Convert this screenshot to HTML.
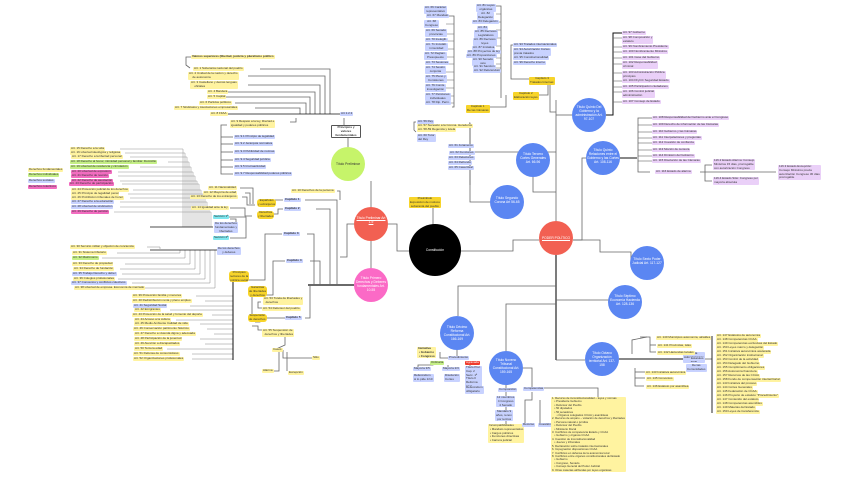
<!DOCTYPE html>
<html><head><meta charset="utf-8"><style>
body{margin:0;background:#fff;width:848px;height:477px;overflow:hidden;position:relative;font-family:"Liberation Sans",sans-serif}
svg{position:absolute;left:0;top:0}
.l{position:absolute;font-size:3px;line-height:3.8px;padding:0 1px;white-space:nowrap;color:#333;border-radius:1px}
.y{background:#fff3a0}.b{background:#c8d2ff}.p{background:#ead0f8}.g{background:#c5ef86}.m{background:#f26cc0}.c{background:#7ee6ee}.h{background:#f7d42a}
.r{background:#ef3b2c;color:#fff}
.w{background:#fff;border:0.6px solid #555;font-weight:bold;text-align:center;white-space:normal}
.t{position:absolute;font-size:3.3px;line-height:4px;color:#fff;text-align:center;white-space:normal}
</style></head><body>
<svg width="848" height="477" viewBox="0 0 848 477" fill="none" stroke="#666" stroke-width="0.8">
<polyline points="410,251 397,251 397,224 388,224"/>
<polyline points="460,251 513,251 513,240 539,240"/>
<line x1="433" y1="226" x2="433" y2="207"/>
<line x1="371" y1="207" x2="371" y2="181"/>
<line x1="371" y1="241" x2="371" y2="268"/>
<polyline points="354,224 347,224 347,257 340,257"/>
<line x1="308" y1="285" x2="354" y2="285" stroke="#111" stroke-width="1.2"/>
<polyline points="305,200 337,200 337,285"/>
<polyline points="316,209 330,209 330,285"/>
<polyline points="307,234 314,234 314,285"/>
<polyline points="310,261 320,261 320,285"/>
<polyline points="305,318 310,318 310,285"/>
<polyline points="337,191 340,191 340,200"/>
<polyline points="283,200 272,200 272,205 265,205"/>
<polyline points="283,209 278,209 278,214 268,214"/>
<polyline points="282,234 265,234 265,280 245,280"/>
<polyline points="285,261 273,261 273,295 265,295"/>
<polyline points="285,318 260,318 260,322 255,322"/>
<polyline points="252,290 252,315"/>
<polyline points="261,302 258,302 258,308 262,308"/>
<polyline points="262,330 258,330 258,326 252,326"/>
<polyline points="270,336 285,336 285,345 274,350"/>
<polyline points="283,350 283,358 312,358"/>
<polyline points="279,352 279,371 262,371"/>
<polyline points="287,352 287,371"/>
<polyline points="240,188 253,188 253,204"/><polyline points="245,193 250,193 250,204"/><polyline points="242,197 247,197 247,205 255,205"/>
<polyline points="230,208 245,208 245,216 252,216"/>
<polyline points="229,217 246,217 246,238 230,238"/>
<polyline points="230,219 236,219 236,228 230,228"/>
<polyline points="348,147 348,138"/>
<polyline points="344,127 344,118"/>
<polyline points="260,69 330,69 330,114"/>
<polyline points="248,76 325,76 325,114"/>
<polyline points="248,85 320,85 320,114"/>
<polyline points="225,92 315,92 315,114"/>
<polyline points="223,97 310,97 310,114"/>
<polyline points="235,103 306,103 306,114"/>
<polyline points="255,108 300,108 300,114"/>
<line x1="225" y1="114" x2="340" y2="114" stroke="#111"/>
<polyline points="192,57 186,57 186,65 190,68"/>
<polyline points="296,118 296,122 290,122"/>
<polyline points="227,125 221,125 221,174 233,174"/>
<line x1="221" y1="137" x2="233" y2="137"/><line x1="221" y1="144" x2="233" y2="144"/><line x1="221" y1="152" x2="233" y2="152"/><line x1="221" y1="160" x2="233" y2="160"/><line x1="221" y1="167" x2="233" y2="167"/>
<g stroke-width="0.45" stroke="#888">
<polyline points="120,149 183,149 183,227"/><polyline points="125,153 185,153 185,227"/><polyline points="130,157 187,157 187,227"/><polyline points="168,162 189,162 189,227"/><polyline points="140,167 191,167 191,227"/><polyline points="118,172 193,172 193,227"/><polyline points="118,176 195,176 195,227"/><polyline points="120,181 197,181 197,227"/><polyline points="122,184 199,184 199,227"/><polyline points="133,190 201,190 201,227"/><polyline points="128,194 203,194 203,227"/><polyline points="130,198 205,198 205,227"/><polyline points="120,202 207,202 207,227"/><polyline points="120,207 209,207 209,227"/><polyline points="114,212 211,212 211,227"/>
</g>
<line x1="150" y1="227" x2="213" y2="227" stroke="#111"/>
<g stroke-width="0.5" stroke="#888">
<polyline points="147,247 160,247 160,249"/><polyline points="117,253 180,253 180,250"/><polyline points="102,258 185,258 185,250"/><polyline points="125,264 190,264 190,250"/><polyline points="120,269 195,269 195,250"/><polyline points="122,274 200,274 200,250"/><polyline points="118,279 205,279 205,250"/><polyline points="132,283 210,283 210,250"/><polyline points="145,288 215,288 215,250"/>
</g>
<line x1="150" y1="250" x2="217" y2="250" stroke="#111"/>
<g stroke-width="0.5" stroke="#888">
<line x1="196" y1="296" x2="233" y2="296"/><line x1="205" y1="301" x2="233" y2="301"/><line x1="190" y1="306" x2="233" y2="306"/><line x1="170" y1="310" x2="233" y2="310"/><line x1="212" y1="315" x2="233" y2="315"/><line x1="176" y1="320" x2="233" y2="320"/><line x1="200" y1="324" x2="233" y2="324"/><line x1="207" y1="329" x2="233" y2="329"/><line x1="214" y1="334" x2="233" y2="334"/><line x1="200" y1="339" x2="233" y2="339"/><line x1="205" y1="344" x2="233" y2="344"/><line x1="167" y1="349" x2="233" y2="349"/><line x1="192" y1="354" x2="233" y2="354"/><line x1="192" y1="359" x2="233" y2="359"/>
</g>
<line x1="233" y1="280" x2="233" y2="360" stroke="#111" stroke-width="1"/>
<line x1="556" y1="221" x2="556" y2="100"/>
<line x1="556" y1="255" x2="556" y2="360" stroke="#111" stroke-width="1.1"/>
<polyline points="533,177 533,192 556,192"/>
<polyline points="490,202 470,202 470,128"/>
<polyline points="556,115 572,115"/>
<polyline points="573,240 582,240 582,158 586,158"/>
<polyline points="573,240 600,240 600,252 631,252 631,263"/>
<polyline points="556,286 458,286 458,316"/>
<polyline points="556,304 506,304 506,351"/>
<polyline points="556,300 614,300 614,290"/>
<polyline points="556,360 585,360"/>
<line x1="556" y1="152" x2="470" y2="152"/>
<polyline points="606,115 613,115 613,33 622,33" stroke="#111" stroke-width="1"/>
<g stroke-width="0.6"><line x1="613" y1="38" x2="622" y2="38"/><line x1="613" y1="47" x2="622" y2="47"/><line x1="613" y1="52" x2="622" y2="52"/><line x1="613" y1="58" x2="622" y2="58"/><line x1="613" y1="64" x2="622" y2="64"/><line x1="613" y1="73" x2="622" y2="73"/><line x1="613" y1="81" x2="622" y2="81"/><line x1="613" y1="87" x2="622" y2="87"/><line x1="613" y1="92" x2="622" y2="92"/><line x1="613" y1="102" x2="622" y2="102"/></g>
<polyline points="620,158 637,158" stroke="#111" stroke-width="1"/>
<polyline points="652,118 638,118 638,172 650,172"/>
<g stroke-width="0.6"><line x1="638" y1="125" x2="652" y2="125"/><line x1="638" y1="132" x2="652" y2="132"/><line x1="638" y1="138" x2="652" y2="138"/><line x1="638" y1="143" x2="652" y2="143"/><line x1="638" y1="150" x2="652" y2="150"/><line x1="638" y1="156" x2="652" y2="156"/><line x1="638" y1="161" x2="652" y2="161"/></g>
<polyline points="700,172 705,172 705,165 712,165"/><polyline points="705,172 705,181 712,181"/><line x1="705" y1="172" x2="776" y2="172"/>
<line x1="619" y1="359" x2="690" y2="359" stroke="#111" stroke-width="1"/>
<polyline points="632,354 632,340 647,337"/>
<polyline points="635,368 635,386 644,386"/><line x1="635" y1="372" x2="645" y2="372"/><line x1="635" y1="378" x2="645" y2="378"/>
<polyline points="640,337 650,337 650,352 656,352"/><line x1="650" y1="345" x2="656" y2="345"/>
<polyline points="705,359 712,359"/>
<line x1="712" y1="336" x2="712" y2="413" stroke="#111" stroke-width="0.9"/>
<polyline points="457,350 457,356"/><polyline points="448,358 440,358 440,352"/>
<polyline points="433,362 433,365 418,365 418,368"/><polyline points="448,365 448,368"/><polyline points="470,362 470,366"/>
<polyline points="523,368 532,368 532,388"/><line x1="506" y1="385" x2="506" y2="425"/>
<polyline points="532,392 532,400 525,400 525,424"/><line x1="540" y1="400" x2="540" y2="424"/>
<polyline points="540,388 598,388 598,397"/>
<polyline points="452,107 454,107 454,16 448,16"/>
<g stroke-width="0.5"><line x1="446" y1="24" x2="454" y2="24"/><line x1="446" y1="34" x2="454" y2="34"/><line x1="446" y1="41" x2="454" y2="41"/><line x1="446" y1="49" x2="454" y2="49"/><line x1="446" y1="57" x2="454" y2="57"/><line x1="446" y1="64" x2="454" y2="64"/><line x1="446" y1="72" x2="454" y2="72"/><line x1="446" y1="80" x2="454" y2="80"/><line x1="446" y1="88" x2="454" y2="88"/><line x1="446" y1="96" x2="454" y2="96"/><line x1="446" y1="103" x2="454" y2="103"/></g>
<polyline points="470,107 506,107 506,95"/>
<polyline points="501,98 501,6 496,6"/>
<g stroke-width="0.5"><line x1="496" y1="14" x2="501" y2="14"/><line x1="496" y1="22" x2="501" y2="22"/><line x1="496" y1="30" x2="501" y2="30"/><line x1="496" y1="38" x2="501" y2="38"/><line x1="496" y1="46" x2="501" y2="46"/><line x1="496" y1="52" x2="501" y2="52"/><line x1="496" y1="58" x2="501" y2="58"/><line x1="496" y1="64" x2="501" y2="64"/><line x1="496" y1="68" x2="501" y2="68"/></g>
<polyline points="530,95 548,95 548,80"/>
<polyline points="530,79 511,79 511,45 513,45"/>
<polyline points="548,80 550,80 550,112 556,112"/>
<polyline points="416,122 414,122 414,130 416,132"/>
<polyline points="469,123 470,123 470,185"/>
</svg>

<svg width="848" height="477">
<circle cx="435" cy="250" r="26" fill="#000"/>
<circle cx="371" cy="224" r="17" fill="#f26052"/>
<circle cx="371" cy="285" r="17" fill="#fb6ac6"/>
<circle cx="348" cy="164" r="17" fill="#c6f46a"/>
<circle cx="556" cy="238" r="17" fill="#f26052"/>
<circle cx="507" cy="202" r="17" fill="#5b86f2"/>
<circle cx="533" cy="160" r="17" fill="#5b86f2"/>
<circle cx="589" cy="115" r="17" fill="#5b86f2"/>
<circle cx="603" cy="158" r="17" fill="#5b86f2"/>
<circle cx="647" cy="263" r="17" fill="#5b86f2"/>
<circle cx="625" cy="302" r="17" fill="#5b86f2"/>
<circle cx="602" cy="359" r="17" fill="#5b86f2"/>
<circle cx="457" cy="333" r="17" fill="#5b86f2"/>
<circle cx="506" cy="368" r="17" fill="#5b86f2"/>
</svg>

<div class="t" style="left:415px;top:248px;width:40px">Constitución</div>
<div class="t" style="left:356px;top:216px;width:30px;text-decoration:underline">Título Preliminar Art 1-9</div>
<div class="t" style="left:355px;top:276px;width:32px">Título Primero Derechos y Deberes fundamentales Art. 10-55</div>
<div class="t" style="left:333px;top:162px;width:30px;color:#333">Título Preliminar</div>
<div class="t" style="left:540px;top:236px;width:32px;text-decoration:underline">PODER POLÍTICO</div>
<div class="t" style="left:492px;top:196px;width:30px">Título Segundo Corona Art 56-65</div>
<div class="t" style="left:518px;top:152px;width:30px">Título Tercero Cortes Generales Art. 66-96</div>
<div class="t" style="left:573px;top:105px;width:32px">Título Quinto Del Gobierno y la administración Art. 97-107</div>
<div class="t" style="left:587px;top:148px;width:32px">Título Quinto Relaciones entre el Gobierno y las Cortes Art. 108-116</div>
<div class="t" style="left:632px;top:257px;width:30px">Título Sexto Poder Judicial Art. 117-127</div>
<div class="t" style="left:610px;top:294px;width:30px">Título Séptimo Economía Hacienda Art. 128-136</div>
<div class="t" style="left:587px;top:351px;width:30px">Título Octavo Organización territorial Art. 137-158</div>
<div class="t" style="left:442px;top:325px;width:30px">Título Décimo Reforma Constitucional Art. 166-169</div>
<div class="t" style="left:491px;top:358px;width:30px">Título Noveno Tribunal Constitucional Art. 159-165</div>

<div class="l h" style="left:409px;top:197px;text-align:center">Preámbulo<br>Exposición de motivos<br>soberanía del pueblo</div>
<div class="l w" style="left:331px;top:125px;width:26px">Principios y valores fundamentales</div>
<div class="l b" style="left:340px;top:112px">Art 1.2.3</div>
<div class="l y" style="left:191px;top:55px;font-weight:bold">Valores superiores (libertad, justicia y pluralismo político</div>
<div class="l y" style="left:193px;top:67px">Art. 1 Soberanía nacional del pueblo</div>
<div class="l y" style="left:188px;top:72px">Art. 2 Unidad de la nación y derecho<br>&nbsp;&nbsp;&nbsp;&nbsp;de autonomía</div>
<div class="l y" style="left:190px;top:81px">Art. 3 Castellano y demás lenguas<br>&nbsp;&nbsp;&nbsp;&nbsp;oficiales</div>
<div class="l y" style="left:207px;top:90px">Art. 4 Bandera</div>
<div class="l y" style="left:207px;top:95px">Art. 5 Capital</div>
<div class="l y" style="left:199px;top:101px">Art. 6 Partidos políticos</div>
<div class="l y" style="left:174px;top:106px">Art. 7 Sindicatos y Asociaciones empresariales</div>
<div class="l y" style="left:210px;top:112px">Art. 8 FFAA</div>
<div class="l y" style="left:230px;top:120px">Art. 9 Respeto a la ley, libertad e<br>igualdad y poderes públicos</div>
<div class="l b" style="left:234px;top:135px">Art. 9.1 Principio de legalidad</div>
<div class="l b" style="left:234px;top:142px">Art. 9.2 Jerarquía normativa</div>
<div class="l b" style="left:234px;top:150px">Art. 9.3 Publicidad de normas</div>
<div class="l b" style="left:234px;top:158px">Art. 9.4 Seguridad jurídica</div>
<div class="l b" style="left:234px;top:165px">Art. 9.5 Irretroactividad</div>
<div class="l b" style="left:234px;top:172px">Art. 9.7 Responsabilidad poderes públicos</div>

<div class="l y" style="left:28px;top:168px">Derechos fundamentales</div>
<div class="l g" style="left:28px;top:173px">Derechos individuales</div>
<div class="l b" style="left:28px;top:179px">Derechos sociales</div>
<div class="l m" style="left:28px;top:185px">Derechos colectivos</div>

<div class="l y" style="left:70px;top:147px">Art. 15 Derecho a la vida</div>
<div class="l y" style="left:70px;top:151px">Art. 16 Libertad ideológica y religiosa</div>
<div class="l y" style="left:71px;top:155px">Art. 17 Derecho a la libertad personal</div>
<div class="l g" style="left:70px;top:160px">Art. 18 Derecho al honor, intimidad personal y familiar. Domicilio</div>
<div class="l g" style="left:70px;top:165px">Art. 19 Libertad de residencia y circulación</div>
<div class="l m" style="left:71px;top:170px">Art. 20 Libertad de expresión</div>
<div class="l m" style="left:71px;top:174px">Art. 21 Derecho de reunión</div>
<div class="l m" style="left:71px;top:179px">Art. 22 Derecho de asociación</div>
<div class="l m" style="left:69px;top:182px">Art. 23 Derecho de participación</div>
<div class="l y" style="left:71px;top:188px">Art. 24 Protección judicial de los derechos</div>
<div class="l y" style="left:71px;top:192px">Art. 25 Principio de legalidad penal</div>
<div class="l y" style="left:71px;top:196px">Art. 26 Prohibición tribunales de honor</div>
<div class="l b" style="left:71px;top:200px">Art. 27 Derecho a la educación</div>
<div class="l b" style="left:71px;top:205px">Art. 28 Libertad de sindicación</div>
<div class="l m" style="left:71px;top:210px">Art. 29 Derecho de petición</div>

<div class="l y" style="left:70px;top:245px">Art. 30 Servicio militar y objeción de conciencia</div>
<div class="l y" style="left:72px;top:251px">Art. 31 Sistema tributario</div>
<div class="l g" style="left:72px;top:256px">Art. 32 Matrimonio</div>
<div class="l y" style="left:72px;top:262px">Art. 33 Derecho de propiedad</div>
<div class="l y" style="left:73px;top:267px">Art. 34 Derecho de fundación</div>
<div class="l b" style="left:72px;top:272px">Art. 35 Trabajo Derecho y deber</div>
<div class="l y" style="left:73px;top:277px">Art. 36 Colegios profesionales</div>
<div class="l b" style="left:71px;top:281px">Art. 37 Convenios y conflictos colectivos</div>
<div class="l y" style="left:74px;top:286px">Art. 38 Libertad de empresa. Economía de mercado</div>

<div class="l c" style="left:213px;top:215px">Sección 1ª</div>
<div class="l b" style="left:214px;top:222px;text-align:center">De los derechos<br>fundamentales y<br>libertades</div>
<div class="l c" style="left:213px;top:236px">Sección 2ª</div>
<div class="l b" style="left:217px;top:247px;text-align:center">De los derechos<br>y deberes</div>

<div class="l y" style="left:291px;top:189px">Art. 10 Derechos de la persona</div>
<div class="l b" style="left:284px;top:198px;font-weight:bold">Capítulo 1</div>
<div class="l b" style="left:284px;top:207px;font-weight:bold">Capítulo 2</div>
<div class="l b" style="left:283px;top:232px;font-weight:bold">Capítulo 3</div>
<div class="l b" style="left:286px;top:259px;font-weight:bold">Capítulo 4</div>
<div class="l b" style="left:285px;top:316px;font-weight:bold">Capítulo 5</div>
<div class="l y" style="left:208px;top:186px">Art. 11 Nacionalidad</div>
<div class="l y" style="left:203px;top:191px">Art. 12 Mayoría de edad</div>
<div class="l y" style="left:190px;top:195px">Art. 13 Derecho de los extranjeros</div>
<div class="l y" style="left:191px;top:206px">Art. 14 Igualdad ante la ley</div>
<div class="l h" style="left:257px;top:199px;text-align:center;border-radius:3px">Españoles<br>y extranjeros</div>
<div class="l h" style="left:257px;top:211px;text-align:center;border-radius:3px">Derechos<br>y libertades</div>
<div class="l h" style="left:229px;top:271px;text-align:center;border-radius:3px">Principios<br>rectores de la<br>política social</div>
<div class="l h" style="left:248px;top:286px;text-align:center;border-radius:3px">Garantías<br>de libertades<br>y derechos</div>
<div class="l h" style="left:248px;top:314px;text-align:center;border-radius:3px">Suspensión<br>de derechos</div>
<div class="l y" style="left:263px;top:297px">Art. 53 Tutela de libertades y<br>&nbsp;&nbsp;derechos</div>
<div class="l y" style="left:262px;top:307px">Art. 54 Defensor del pueblo</div>
<div class="l y" style="left:262px;top:329px">Art. 55 Suspensión de<br>&nbsp;&nbsp;derechos y libertades</div>
<div class="l y" style="left:272px;top:348px">Casos</div>
<div class="l y" style="left:312px;top:356px">Sitio</div>
<div class="l y" style="left:262px;top:369px">Alarma</div>
<div class="l y" style="left:288px;top:371px">Excepción</div>

<div class="l y" style="left:132px;top:294px">Art. 39 Protección familia y menores</div>
<div class="l y" style="left:132px;top:299px">Art. 40 Redistribución renta y pleno empleo</div>
<div class="l b" style="left:133px;top:304px">Art. 41 Seguridad Social</div>
<div class="l y" style="left:134px;top:308px">Art. 42 Emigrantes</div>
<div class="l y" style="left:132px;top:313px">Art. 43 Protección de la salud y fomento del deporte</div>
<div class="l y" style="left:134px;top:318px">Art. 44 Acceso a la cultura</div>
<div class="l y" style="left:134px;top:322px">Art. 45 Medio Ambiente Calidad de vida</div>
<div class="l y" style="left:133px;top:327px">Art. 46 Conservación patrimonio histórico</div>
<div class="l y" style="left:134px;top:332px">Art. 47 Derecho a vivienda digna y adecuada</div>
<div class="l y" style="left:134px;top:337px">Art. 48 Participación de la juventud</div>
<div class="l y" style="left:134px;top:342px">Art. 49 Atención a discapacitados</div>
<div class="l y" style="left:134px;top:347px">Art. 50 Tercera edad</div>
<div class="l y" style="left:133px;top:352px">Art. 51 Defensa de consumidores</div>
<div class="l y" style="left:133px;top:357px">Art. 52 Organizaciones profesionales</div>

<div class="l b" style="left:424px;top:6px;text-align:center">Art. 66 Carácter<br>representativo</div>
<div class="l b" style="left:426px;top:14px">Art. 67 Mandato</div>
<div class="l b" style="left:424px;top:20px;text-align:center">Art. 68<br>Congreso</div>
<div class="l b" style="left:425px;top:29px;text-align:center">Art. 69 Senado<br>provincias</div>
<div class="l b" style="left:425px;top:38px">Art. 70 Inelegib.</div>
<div class="l b" style="left:425px;top:43px;text-align:center">Art. 71 Inviolab.<br>inmunidad</div>
<div class="l b" style="left:424px;top:52px;text-align:center">Art. 72 Reglam.<br>Presupuesto</div>
<div class="l b" style="left:425px;top:61px">Art. 73 Sesiones</div>
<div class="l b" style="left:425px;top:66px;text-align:center">Art. 74 Sesión<br>conjunta</div>
<div class="l b" style="left:425px;top:75px;text-align:center">Art. 75 Pleno y<br>Comisiones</div>
<div class="l b" style="left:425px;top:84px;text-align:center">Art. 76 Comis.<br>investigación</div>
<div class="l b" style="left:425px;top:93px;text-align:center">Art. 77 Peticiones<br>individuales</div>
<div class="l b" style="left:425px;top:101px">Art. 78 Dip. Perm.</div>
<div class="l b" style="left:476px;top:4px;text-align:center">Art. 81 Leyes<br>orgánicas</div>
<div class="l b" style="left:477px;top:12px;text-align:center">Art. 82<br>Delegación</div>
<div class="l b" style="left:472px;top:20px">Art. 83 Delegación</div>
<div class="l b" style="left:477px;top:26px">Art. 84</div>
<div class="l b" style="left:474px;top:30px;text-align:center">Art. 85 Decretos<br>Legislativos</div>
<div class="l b" style="left:473px;top:38px;text-align:center">Art. 86 Decretos<br>leyes</div>
<div class="l b" style="left:472px;top:46px">Art. 87 Iniciativa</div>
<div class="l b" style="left:467px;top:50px">Art. 88 Proyectos de ley</div>
<div class="l b" style="left:466px;top:54px">Art. 89 Proposiciones</div>
<div class="l b" style="left:472px;top:58px;text-align:center">Art. 90 Senado<br>veto</div>
<div class="l b" style="left:473px;top:65px">Art. 91 Sanción</div>
<div class="l b" style="left:473px;top:69px">Art. 92 Referéndum</div>
<div class="l b" style="left:513px;top:43px">Art. 93 Tratados internacionales</div>
<div class="l b" style="left:513px;top:48px">Art. 94 Autorización Cortes<br>previa tratados</div>
<div class="l b" style="left:513px;top:56px">Art. 95 Constitucionalidad</div>
<div class="l b" style="left:513px;top:61px">Art. 96 Derecho interno</div>
<div class="l h" style="left:466px;top:105px;text-align:center">Capítulo 1<br>De las Cámaras</div>
<div class="l h" style="left:513px;top:92px;text-align:center">Capítulo 2<br>Elaboración leyes</div>
<div class="l h" style="left:529px;top:77px;text-align:center">Capítulo 3<br>Tratados Internac.</div>

<div class="l b" style="left:417px;top:120px">Art. 56 Rey</div>
<div class="l y" style="left:417px;top:124px">Art. 57 Sucesión a la Corona. Herederos</div>
<div class="l y" style="left:417px;top:128px">Art. 58-59 Regencia y tutela</div>
<div class="l b" style="left:417px;top:134px">Art. 60 Tutor<br>del Rey</div>
<div class="l b" style="left:448px;top:144px">Art. 61 Juramento</div>
<div class="l b" style="left:449px;top:151px">Art. 62 Funciones</div>
<div class="l b" style="left:448px;top:156px">Art. 63 Relaciones</div>
<div class="l b" style="left:448px;top:161px">Art. 64 Refrendo</div>
<div class="l b" style="left:448px;top:166px">Art. 65 Casa Real</div>

<div class="l p" style="left:622px;top:31px">Art. 97 Gobierno</div>
<div class="l p" style="left:622px;top:36px">Art. 98 Composición y<br>estatuto</div>
<div class="l p" style="left:622px;top:45px">Art. 99 Nombramiento Presidente</div>
<div class="l p" style="left:622px;top:50px">Art. 100 Nombramiento Ministros</div>
<div class="l p" style="left:622px;top:56px">Art. 101 Cese del Gobierno</div>
<div class="l p" style="left:622px;top:61px">Art. 102 Responsabilidad<br>criminal</div>
<div class="l p" style="left:622px;top:71px">Art. 103 Administración Pública<br>principios</div>
<div class="l p" style="left:622px;top:79px">Art. 104 FFyCC Seguridad Estado</div>
<div class="l p" style="left:622px;top:85px">Art. 105 Participación ciudadanos</div>
<div class="l p" style="left:622px;top:90px">Art. 106 Control judicial<br>administración</div>
<div class="l p" style="left:622px;top:100px">Art. 107 Consejo de Estado</div>
<div class="l p" style="left:652px;top:116px">Art. 108 Responsabilidad del Gobierno ante el Congreso</div>
<div class="l p" style="left:652px;top:123px">Art. 109 Derecho de información de las Cámaras</div>
<div class="l p" style="left:652px;top:130px">Art. 110 Gobierno y las Cámaras</div>
<div class="l p" style="left:652px;top:136px">Art. 111 Interpelaciones y preguntas</div>
<div class="l p" style="left:652px;top:141px">Art. 112 Cuestión de confianza</div>
<div class="l p" style="left:652px;top:148px">Art. 113 Moción de censura</div>
<div class="l p" style="left:652px;top:154px">Art. 114 Dimisión del Gobierno</div>
<div class="l p" style="left:652px;top:159px">Art. 115 Disolución de las Cámaras</div>
<div class="l p" style="left:655px;top:170px">Art. 116 Estado de alarma</div>
<div class="l p" style="left:713px;top:159px">116.2 Estado Alarma: Consejo<br>Ministros 15 días, prorrogable<br>con autorización Congreso</div>
<div class="l p" style="left:778px;top:165px">116.3 Estado Excepción:<br>Consejo Ministros previa<br>autorización Congreso 30 días<br>prorrogable</div>
<div class="l p" style="left:713px;top:177px">116.4 Estado Sitio: Congreso por<br>mayoría absoluta</div>

<div class="l b" style="left:683px;top:352px;text-align:center">De la<br>Administración<br>local</div>
<div class="l b" style="left:686px;top:364px;text-align:center">De las<br>Comunidades</div>
<div class="l y" style="left:656px;top:336px">Art. 140 Municipios autonomía, alcaldes</div>
<div class="l y" style="left:657px;top:344px">Art. 141 Provincias, islas</div>
<div class="l y" style="left:657px;top:351px">Art. 142 Haciendas locales</div>
<div class="l y" style="left:645px;top:371px">Art. 143 Iniciativa autonómica</div>
<div class="l y" style="left:646px;top:377px">Art. 145 Convenios</div>
<div class="l y" style="left:646px;top:385px">Art. 146 Estatuto por asamblea</div>
<div class="l b" style="left:690px;top:357px">Estatutos</div>
<div class="l y" style="left:716px;top:334px">Art. 147 Estatutos de autonomía</div>
<div class="l y" style="left:716px;top:338px">Art. 148 Competencias CCAA</div>
<div class="l y" style="left:716px;top:342px">Art. 149 Competencias exclusivas del Estado</div>
<div class="l y" style="left:716px;top:346px">Art. 150 Leyes marco y delegación</div>
<div class="l y" style="left:716px;top:350px">Art. 151 Iniciativa autonómica acelerada</div>
<div class="l y" style="left:716px;top:354px">Art. 152 Organización institucional</div>
<div class="l y" style="left:716px;top:358px">Art. 153 Control de la actividad</div>
<div class="l y" style="left:716px;top:362px">Art. 154 Delegado del Gobierno</div>
<div class="l y" style="left:716px;top:366px">Art. 155 Cumplimiento obligaciones</div>
<div class="l y" style="left:716px;top:370px">Art. 156 Autonomía financiera</div>
<div class="l y" style="left:716px;top:374px">Art. 157 Recursos de las CCAA</div>
<div class="l y" style="left:716px;top:378px">Art. 158 Fondo de compensación interterritorial</div>
<div class="l y" style="left:716px;top:382px">Art. 143 Iniciativa del proceso</div>
<div class="l y" style="left:716px;top:386px">Art. 144 Cortes Generales</div>
<div class="l y" style="left:716px;top:390px">Art. 145 Federación de CCAA</div>
<div class="l y" style="left:716px;top:394px">Art. 146 Proyecto de estatuto "Procedimiento"</div>
<div class="l y" style="left:716px;top:398px">Art. 147 Contenido del estatuto</div>
<div class="l y" style="left:716px;top:402px">Art. 148 Competencias asumibles</div>
<div class="l y" style="left:716px;top:406px">Art. 149 Materias del Estado</div>
<div class="l y" style="left:716px;top:410px">Art. 150 Leyes de transferencia</div>

<div class="l b" style="left:448px;top:356px">Procedimiento</div>
<div class="l y" style="left:417px;top:347px;font-weight:bold">Iniciativa<br>&nbsp;• Gobierno<br>&nbsp;• Congreso</div>
<div class="l g" style="left:430px;top:361px">Ordinaria</div>
<div class="l r" style="left:465px;top:361px">Agravada</div>
<div class="l b" style="left:413px;top:367px">Mayoría 3/5</div>
<div class="l b" style="left:442px;top:367px">Mayoría 2/3</div>
<div class="l b" style="left:413px;top:374px">Referéndum<br>si lo pide 1/10</div>
<div class="l b" style="left:444px;top:374px">Disolución<br>Cortes</div>
<div class="l b" style="left:465px;top:366px">Título Prel.<br>Cap. 2<br>Secc. 1ª<br>Título II<br>Reforma<br>total</div>
<div class="l b" style="left:465px;top:386px">Referéndum<br>obligatorio</div>

<div class="l b" style="left:498px;top:388px">Composición</div>
<div class="l b" style="left:496px;top:396px;text-align:center">12 miembros<br>4 Congreso<br>4 Senado</div>
<div class="l b" style="left:495px;top:410px;text-align:center">Mandato 9<br>años, renov.<br>por tercios</div>
<div class="l y" style="left:488px;top:424px">Incompatibilidades<br>&nbsp;• Mandato representativo<br>&nbsp;• Cargos políticos<br>&nbsp;• Funciones directivas<br>&nbsp;• Carrera judicial</div>
<div class="l b" style="left:523px;top:387px">Competencias</div>
<div class="l b" style="left:522px;top:423px">Recurso</div>
<div class="l b" style="left:538px;top:423px">Cuestión</div>
<div class="l y" style="left:551px;top:397px;font-size:2.8px;line-height:3.4px">1. Recurso de inconstitucionalidad – leyes y normas<br>&nbsp;&nbsp;&nbsp;• Presidente Gobierno<br>&nbsp;&nbsp;&nbsp;• Defensor del Pueblo<br>&nbsp;&nbsp;&nbsp;• 50 diputados<br>&nbsp;&nbsp;&nbsp;• 50 senadores<br>&nbsp;&nbsp;&nbsp;&nbsp;&nbsp;&nbsp;• Órganos colegiados CCAA y asambleas<br>2. Recurso de amparo – violación de derechos y libertades<br>&nbsp;&nbsp;&nbsp;• Persona natural o jurídica<br>&nbsp;&nbsp;&nbsp;• Defensor del Pueblo<br>&nbsp;&nbsp;&nbsp;• Ministerio Fiscal<br>3. Conflictos de competencia Estado y CCAA<br>&nbsp;&nbsp;&nbsp;• Gobierno y órganos CCAA<br>4. Cuestión de inconstitucionalidad<br>&nbsp;&nbsp;&nbsp;• Jueces y tribunales<br>5. Declaración sobre tratados internacionales<br>6. Impugnación disposiciones CCAA<br>7. Conflictos en defensa de la autonomía local<br>8. Conflictos entre órganos constitucionales del Estado<br>&nbsp;&nbsp;&nbsp;• Gobierno<br>&nbsp;&nbsp;&nbsp;• Congreso, Senado<br>&nbsp;&nbsp;&nbsp;• Consejo General del Poder Judicial<br>9. Otras materias atribuidas por leyes orgánicas</div>
</body></html>
